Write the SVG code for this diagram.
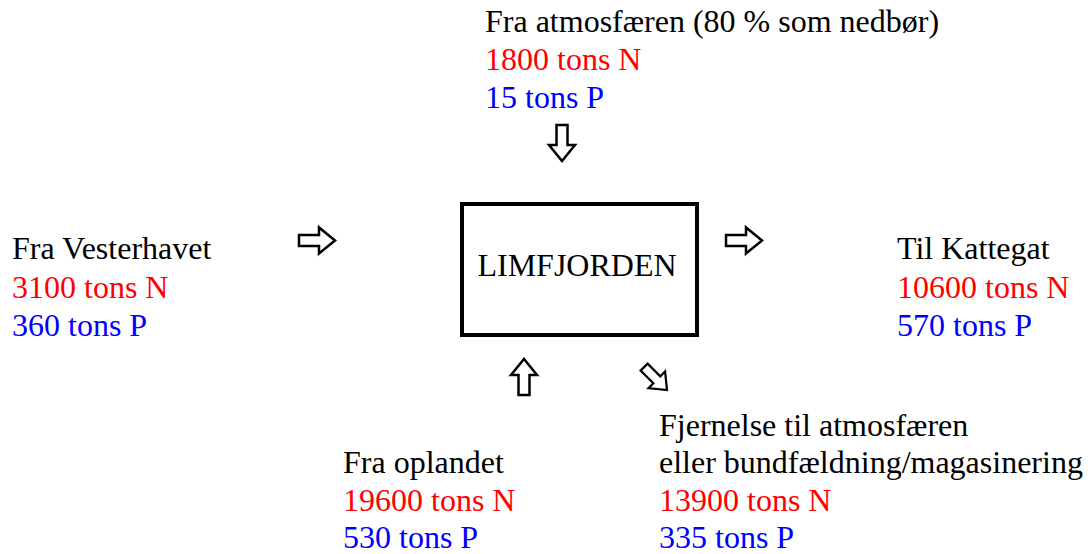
<svg xmlns="http://www.w3.org/2000/svg" xmlns:xlink="http://www.w3.org/1999/xlink" width="1088" height="554" viewBox="0 0 1088 554">
  <style>
    text { font-family: "Liberation Serif", "Times New Roman", serif; font-size: 32px; }
    .lbl { fill: #000; }
    .n { fill: #ff0000; }
    .p { fill: #0000ff; }
    .box { fill: #fff; stroke: #000; stroke-width: 4; }
    .arr { fill: #fff; stroke: #000; stroke-width: 2.5; stroke-linejoin: miter; }
  </style>
  <defs>
    <!-- block arrow pointing right, tip at origin -->
    <path id="blockArrow" class="arr" d="M-36,-5.5 H-16 V-13 L0,0 L-16,13 V5.5 H-36 Z"/>
  </defs>
  <rect width="1088" height="554" fill="#fff"/>

  <g id="connectors">
    <use xlink:href="#blockArrow" transform="translate(335,240.5)"/>
    <use xlink:href="#blockArrow" transform="translate(762,240.5)"/>
    <use xlink:href="#blockArrow" transform="translate(562,161) rotate(90)"/>
    <use xlink:href="#blockArrow" transform="translate(524,359) rotate(-90)"/>
    <use xlink:href="#blockArrow" transform="translate(667,390) rotate(45) scale(0.9)"/>
  </g>

  <g id="limfjorden">
    <rect class="box" x="462" y="204" width="235" height="131"/>
    <text class="lbl" x="577" y="276" text-anchor="middle">LIMFJORDEN</text>
  </g>

  <g id="atmosfaeren">
    <text class="lbl" x="485" y="32">Fra atmosfæren (80 % som nedbør)</text>
    <text class="n" x="485" y="70">1800 tons N</text>
    <text class="p" x="485" y="108">15 tons P</text>
  </g>

  <g id="vesterhavet">
    <text class="lbl" x="12" y="259">Fra Vesterhavet</text>
    <text class="n" x="12" y="298">3100 tons N</text>
    <text class="p" x="12" y="336">360 tons P</text>
  </g>

  <g id="kattegat">
    <text class="lbl" x="897" y="259">Til Kattegat</text>
    <text class="n" x="897" y="298">10600 tons N</text>
    <text class="p" x="897" y="336">570 tons P</text>
  </g>

  <g id="oplandet">
    <text class="lbl" x="343" y="473">Fra oplandet</text>
    <text class="n" x="343" y="511">19600 tons N</text>
    <text class="p" x="343" y="548">530 tons P</text>
  </g>

  <g id="fjernelse">
    <text class="lbl" x="659" y="436">Fjernelse til atmosfæren</text>
    <text class="lbl" x="659" y="473">eller bundfældning/magasinering</text>
    <text class="n" x="659" y="511">13900 tons N</text>
    <text class="p" x="659" y="548">335 tons P</text>
  </g>
</svg>
